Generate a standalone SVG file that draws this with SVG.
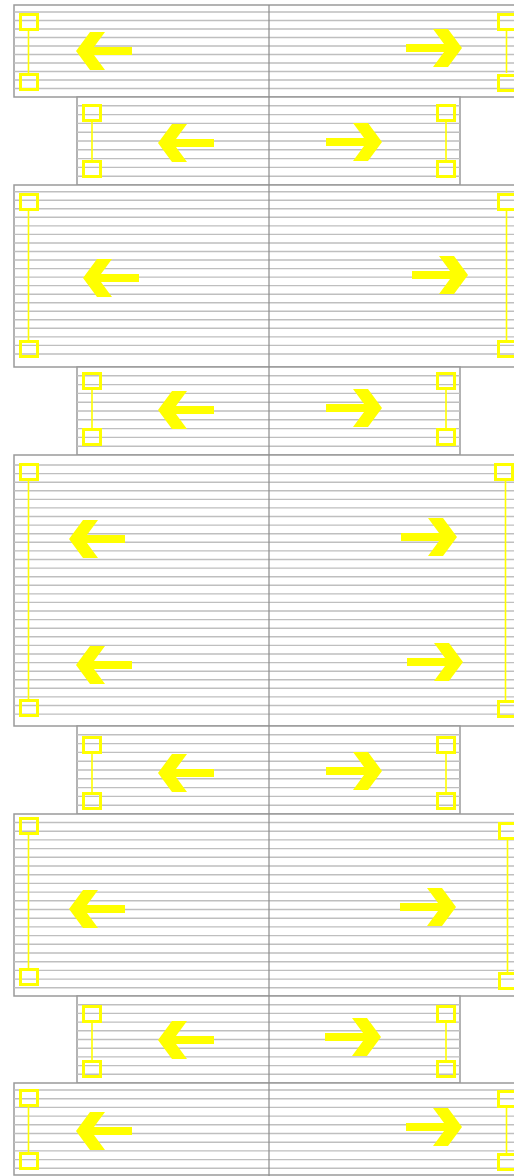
<svg xmlns="http://www.w3.org/2000/svg" xmlns:xlink="http://www.w3.org/1999/xlink" width="514" height="1176" viewBox="0 0 514 1176">
<style>
.bg{fill:#ffffff;stroke:#9a9a9a;stroke-width:1.5}
.sl{fill:none;stroke:#bfbfbf;stroke-width:1.4}
.ax{fill:none;stroke:#8c8c8c;stroke-width:1.2}
.sq{fill:none;stroke:#ffff00;stroke-width:3}
.ln{fill:none;stroke:#ffff00;stroke-width:1.6}
.ar{fill:#ffff00}
</style>
<defs>
<polygon id="aL" points="0,0 14,-19 29,-19 18,-4 56,-4 56,4 18,4 29,19 14,19"/>
<polygon id="aR" points="0,0 -14,-19 -29,-19 -18,-4 -56,-4 -56,4 -18,4 -29,19 -14,19"/>
</defs>
<rect width="514" height="1176" fill="#ffffff"/>

<g id="block1">
<rect class="bg" x="14" y="5" width="510" height="92"/>
<path class="sl" d="M14 12H514M14 20.5H514M14 29H514M14 37.5H514M14 46H514M14 54.5H514M14 63H514M14 71.5H514M14 80H514M14 88.5H514"/>
</g>
<g id="block2">
<rect class="bg" x="77" y="97" width="383" height="88"/>
<path class="sl" d="M77 105.8H460M77 114.6H460M77 123.4H460M77 132.2H460M77 141H460M77 149.8H460M77 158.6H460M77 167.4H460M77 176.2H460"/>
</g>
<g id="block3">
<rect class="bg" x="14" y="185" width="510" height="182"/>
<path class="sl" d="M14 191.7H514M14 200.2H514M14 208.8H514M14 217.3H514M14 225.9H514M14 234.4H514M14 243H514M14 251.5H514M14 260H514M14 268.6H514M14 277.1H514M14 285.6H514M14 294.2H514M14 302.7H514M14 311.3H514M14 319.8H514M14 328.3H514M14 336.9H514M14 345.4H514M14 354H514"/>
</g>
<g id="block4">
<rect class="bg" x="77" y="367" width="383" height="88"/>
<path class="sl" d="M77 375.8H460M77 384.6H460M77 393.4H460M77 402.2H460M77 411H460M77 419.8H460M77 428.6H460M77 437.4H460M77 446.2H460"/>
</g>
<g id="block5">
<rect class="bg" x="14" y="455" width="510" height="271"/>
<path class="sl" d="M14 465H514M14 473.6H514M14 482.2H514M14 490.8H514M14 499.4H514M14 507.9H514M14 516.5H514M14 525.1H514M14 533.7H514M14 542.3H514M14 550.9H514M14 559.5H514M14 568.1H514M14 576.7H514M14 585.3H514M14 593.9H514M14 602.4H514M14 611H514M14 619.6H514M14 628.2H514M14 636.8H514M14 645.4H514M14 654H514M14 662.6H514M14 671.2H514M14 679.8H514M14 688.3H514M14 696.9H514M14 705.5H514M14 714.1H514"/>
</g>
<g id="block6">
<rect class="bg" x="77" y="726" width="383" height="88"/>
<path class="sl" d="M77 734.8H460M77 743.6H460M77 752.4H460M77 761.2H460M77 770H460M77 778.8H460M77 787.6H460M77 796.4H460M77 805.2H460"/>
</g>
<g id="block7">
<rect class="bg" x="14" y="814" width="510" height="182"/>
<path class="sl" d="M14 822.5H514M14 831.2H514M14 839.9H514M14 848.6H514M14 857.3H514M14 866H514M14 874.7H514M14 883.4H514M14 892.1H514M14 900.8H514M14 909.5H514M14 918.2H514M14 926.9H514M14 935.6H514M14 944.3H514M14 953H514M14 961.7H514M14 970.4H514M14 979.1H514M14 987.8H514"/>
</g>
<g id="block8">
<rect class="bg" x="77" y="996" width="383" height="87"/>
<path class="sl" d="M77 1004.7H460M77 1013.4H460M77 1022.1H460M77 1030.8H460M77 1039.5H460M77 1048.2H460M77 1056.9H460M77 1065.6H460M77 1074.3H460"/>
</g>
<g id="block9">
<rect class="bg" x="14" y="1083" width="510" height="92"/>
<path class="sl" d="M14 1090H514M14 1098.7H514M14 1107.4H514M14 1116.1H514M14 1124.8H514M14 1133.5H514M14 1142.2H514M14 1150.9H514M14 1159.6H514M14 1168.3H514"/>
</g>

<g id="axis">
<line class="ax" x1="269" y1="5" x2="269" y2="1176"/>
</g>

<g id="markers">
<path class="ln" d="M28.5 31V73M506.5 31V73M92 122V160M446 122V160M28.5 211V340M506.5 211V340M92 390V428M446 390V428M28.5 481V699M505.5 481V700M92 754V792M446 754V792M28.5 835V968M507.5 840V972M92 1023V1060M446 1023V1060M28.5 1107V1152M506.5 1108V1153"/>
<rect class="sq" x="20.5" y="14.5" width="17" height="15"/>
<rect class="sq" x="20.5" y="74.5" width="17" height="15"/>
<rect class="sq" x="498.5" y="14.5" width="17" height="15"/>
<rect class="sq" x="498.5" y="75.5" width="17" height="15"/>
<rect class="sq" x="83.5" y="105.5" width="17" height="15"/>
<rect class="sq" x="83.5" y="161.5" width="17" height="15"/>
<rect class="sq" x="437.5" y="105.5" width="17" height="15"/>
<rect class="sq" x="437.5" y="161.5" width="17" height="15"/>
<rect class="sq" x="20.5" y="194.5" width="17" height="15"/>
<rect class="sq" x="20.5" y="341.5" width="17" height="15"/>
<rect class="sq" x="498.5" y="194.5" width="17" height="15"/>
<rect class="sq" x="498.5" y="341.5" width="17" height="15"/>
<rect class="sq" x="83.5" y="373.5" width="17" height="15"/>
<rect class="sq" x="83.5" y="429.5" width="17" height="15"/>
<rect class="sq" x="437.5" y="373.5" width="17" height="15"/>
<rect class="sq" x="437.5" y="429.5" width="17" height="15"/>
<rect class="sq" x="20.5" y="464.5" width="17" height="15"/>
<rect class="sq" x="20.5" y="700.5" width="17" height="15"/>
<rect class="sq" x="495.5" y="464.5" width="17" height="15"/>
<rect class="sq" x="498.5" y="701.5" width="17" height="15"/>
<rect class="sq" x="83.5" y="737.5" width="17" height="15"/>
<rect class="sq" x="83.5" y="793.5" width="17" height="15"/>
<rect class="sq" x="437.5" y="737.5" width="17" height="15"/>
<rect class="sq" x="437.5" y="793.5" width="17" height="15"/>
<rect class="sq" x="20.5" y="818.5" width="17" height="15"/>
<rect class="sq" x="20.5" y="969.5" width="17" height="15"/>
<rect class="sq" x="499.5" y="823.5" width="17" height="15"/>
<rect class="sq" x="499.5" y="973.5" width="17" height="15"/>
<rect class="sq" x="83.5" y="1006.5" width="17" height="15"/>
<rect class="sq" x="83.5" y="1061.5" width="17" height="15"/>
<rect class="sq" x="437.5" y="1006.5" width="17" height="15"/>
<rect class="sq" x="437.5" y="1061.5" width="17" height="15"/>
<rect class="sq" x="20.5" y="1090.5" width="17" height="15"/>
<rect class="sq" x="20.5" y="1153.5" width="17" height="15"/>
<rect class="sq" x="498.5" y="1091.5" width="17" height="15"/>
<rect class="sq" x="498.5" y="1154.5" width="17" height="15"/>
</g>

<g id="arrows" class="ar">
<use xlink:href="#aL" x="76" y="51"/>
<use xlink:href="#aR" x="462" y="48"/>
<use xlink:href="#aL" x="158" y="143"/>
<use xlink:href="#aR" x="382" y="142"/>
<use xlink:href="#aL" x="83" y="278"/>
<use xlink:href="#aR" x="468" y="275"/>
<use xlink:href="#aL" x="158" y="410"/>
<use xlink:href="#aR" x="382" y="408"/>
<use xlink:href="#aL" x="69" y="539"/>
<use xlink:href="#aR" x="457" y="537"/>
<use xlink:href="#aL" x="76" y="665"/>
<use xlink:href="#aR" x="463" y="662"/>
<use xlink:href="#aL" x="158" y="773"/>
<use xlink:href="#aR" x="382" y="771"/>
<use xlink:href="#aL" x="69" y="909"/>
<use xlink:href="#aR" x="456" y="907"/>
<use xlink:href="#aL" x="158" y="1040"/>
<use xlink:href="#aR" x="381" y="1037"/>
<use xlink:href="#aL" x="76" y="1131"/>
<use xlink:href="#aR" x="462" y="1127"/>
</g>
</svg>
